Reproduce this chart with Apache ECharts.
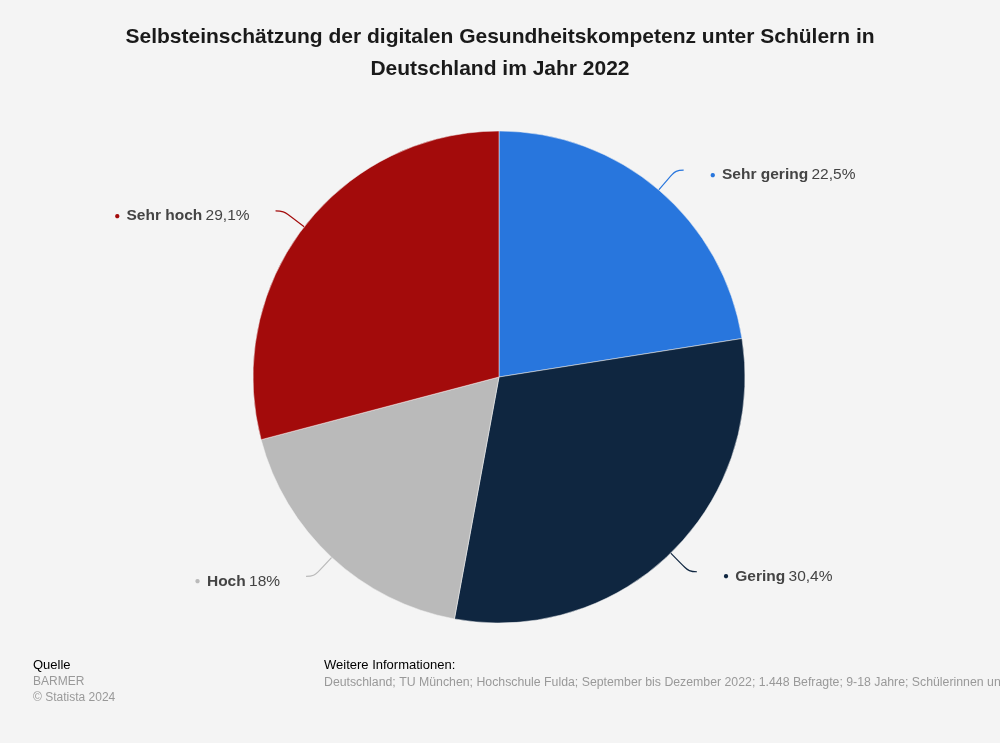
<!DOCTYPE html>
<html>
<head>
<meta charset="utf-8">
<script src="https://cdn.jsdelivr.net/npm/echarts@6/dist/echarts.min.js"></script>
<style>
html,body{margin:0;padding:0;background:#f4f4f4;}
#c{width:1000px;height:743px;}
</style>
</head>
<body>
<div id="c"></div>
<script>
const categories = ['Sehr gering', 'Gering', 'Hoch', 'Sehr hoch'];
const values = [22.5, 30.4, 18, 29.1];
const colors = ['#2876dd', '#0f2640', '#bababa', '#a30b0b'];
const titleText = 'Selbsteinschätzung der digitalen Gesundheitskompetenz unter Schülern in\nDeutschland im Jahr 2022';

const chart = echarts.init(document.getElementById('c'));
const FF = 'Liberation Sans, Arial, sans-serif';
const fmt = v => String(v).replace('.', ',') + '%';
const rich = {
  nm: {fontFamily: FF, fontSize: 15.5, fontWeight: 'bold', color: '#444'},
  val: {fontFamily: FF, fontSize: 15.5, color: '#444'}
};
colors.forEach((c, i) => { rich['d' + i] = {fontSize: 10, color: c, padding: [0, 2, 0, 0]}; });

chart.setOption({
  backgroundColor: '#f4f4f4',
  animation: false,
  title: {
    text: titleText,
    left: 'center',
    top: 16,
    textStyle: {fontFamily: FF, fontSize: 21, fontWeight: 'bold', color: '#1a1a1a', lineHeight: 32}
  },
  graphic: [
    {type: 'text', left: 33, top: 659, style: {text: 'Quelle', fontFamily: FF, fontSize: 13, fill: '#000'}},
    {type: 'text', left: 33, top: 676, style: {text: 'BARMER', fontFamily: FF, fontSize: 12, fill: '#999'}},
    {type: 'text', left: 33, top: 692, style: {text: '© Statista 2024', fontFamily: FF, fontSize: 12, fill: '#999'}},
    {type: 'text', left: 324, top: 659, style: {text: 'Weitere Informationen:', fontFamily: FF, fontSize: 13, fill: '#000'}},
    {type: 'text', x: 324, y: 677, style: {text: 'Deutschland; TU München; Hochschule Fulda; September bis Dezember 2022; 1.448 Befragte; 9-18 Jahre; Schülerinnen und Schüler', fontFamily: FF, fontSize: 12.3, fill: '#999'}}
  ],
  series: [{
    type: 'pie',
    center: [499, 377],
    radius: [0, 246],
    startAngle: 90,
    clockwise: true,
    color: colors,
    itemStyle: {borderColor: '#f4f4f4', borderWidth: 0.5},
    label: {
      show: true,
      position: 'outside',
      distanceToLabelLine: 26,
      padding: [10, 0, 0, 0],
      formatter: p => '{d' + p.dataIndex + '|●}{nm| ' + p.name + '} {val|' + fmt(p.value) + '}',
      rich: rich
    },
    labelLine: {show: true, length: 26, length2: 8, smooth: 0.4, lineStyle: {width: 1.2}},
    data: categories.map((n, i) => ({name: n, value: values[i]}))
  }]
});
</script>
</body>
</html>
